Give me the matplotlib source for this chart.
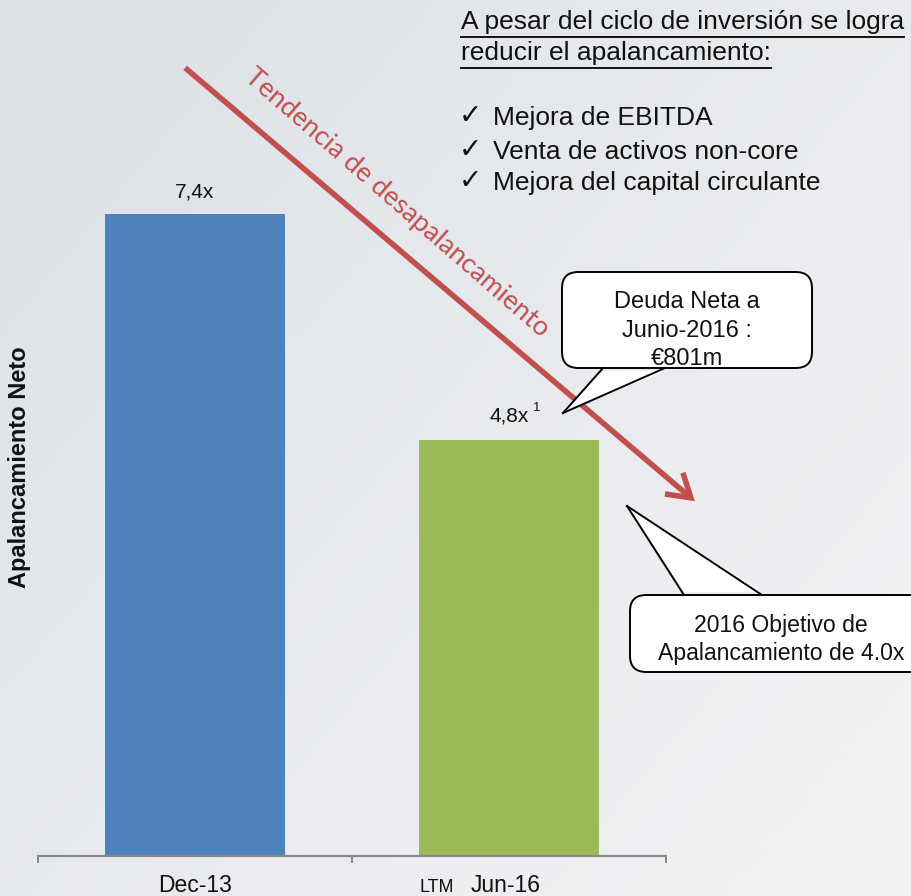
import numpy as np
import matplotlib
matplotlib.use("Agg")
import matplotlib.pyplot as plt
from matplotlib.patches import FancyBboxPatch, Polygon, FancyArrowPatch
from matplotlib.lines import Line2D

# ---- data ----
categories = ["Dec-13", "Jun-16"]
values = [7.4, 4.8]
value_labels = ["7,4x", "4,8x"]
bar_colors = ["#4f81bd", "#9bbb59"]
ylabel = "Apalancamiento Neto"
title_lines = ["A pesar del ciclo de inversión se logra", "reducir el apalancamiento:"]
bullets = ["Mejora de EBITDA", "Venta de activos non-core", "Mejora del capital circulante"]
trend_label = "Tendencia de desapalancamiento"
callout1 = ["Deuda Neta a", "Junio-2016 :", "€801m"]
callout2 = ["2016 Objetivo de", "Apalancamiento de 4.0x"]

W, H = 912, 896
fig = plt.figure(figsize=(W / 100, H / 100), dpi=100)

def P(x, y):
    return (x / W, 1 - y / H)

ARIAL = ["Liberation Sans", "DejaVu Sans"]

# background gradient
bg = fig.add_axes([0, 0, 1, 1], zorder=-10)
yy, xx = np.mgrid[0:1:200j, 0:1:200j]
t = np.clip((xx * 0.55 + yy * 0.45), 0, 1)
c0 = np.array([0xdc, 0xe1, 0xe6]) / 255
c1 = np.array([0xf3, 0xf3, 0xf5]) / 255
img = c0[None, None, :] * (1 - t[..., None]) + c1[None, None, :] * t[..., None]
bg.imshow(img, aspect="auto", extent=[0, 1, 0, 1], origin="upper")
bg.axis("off")

# main axes
ax = fig.add_axes([38 / W, 40 / H, 628 / W, 856 / H])
ax.patch.set_alpha(0)
x = np.arange(len(categories))
ax.bar(x, values, width=0.573, color=bar_colors, zorder=2)
ax.set_xlim(-0.5, 1.5)
ax.set_ylim(0, 9.873)
for s in ["top", "right", "left"]:
    ax.spines[s].set_visible(False)
ax.spines["bottom"].set_color("#888888")
ax.spines["bottom"].set_linewidth(1.6)
ax.set_yticks([])
ax.set_xticks([-0.5, 0.5, 1.5])
ax.set_xticklabels([])
ax.tick_params(axis="x", direction="out", length=5, width=1.4, color="#888888")

# value labels
ax.text(x[0], values[0] + 0.254, value_labels[0], ha="center", va="center",
        fontsize=15, family=ARIAL, color="#111111", zorder=5)
ax.text(x[1], values[1] + 0.27, value_labels[1], ha="center", va="center",
        fontsize=15, family=ARIAL, color="#111111", zorder=5)
fig.text(*P(537, 408), "1", ha="center", va="center", fontsize=9.5, family=ARIAL, color="#111111")

# category labels
fig.text(*P(195, 885), categories[0], ha="center", va="center", fontsize=16.5, family=ARIAL, color="#111111")
fig.text(*P(437, 887), "LTM", ha="center", va="center", fontsize=13, family=ARIAL, color="#111111")
fig.text(*P(506, 885), categories[1], ha="center", va="center", fontsize=16.5, family=ARIAL, color="#111111")

# y label
fig.text(*P(20, 467), ylabel, rotation=90, ha="center", va="center", fontsize=17,
         fontweight="bold", family=ARIAL, color="#111111")

# title text with underline
fig.canvas.draw()
renderer = fig.canvas.get_renderer()
for i, (line, yc) in enumerate(zip(title_lines, [22, 53])):
    tt = fig.text(*P(461, yc), line, ha="left", va="center", fontsize=19, family=ARIAL, color="#111111")
    bb = tt.get_window_extent(renderer=renderer)
    yline = 1 - (yc + 15) / H
    fig.add_artist(Line2D([bb.x0 / W, bb.x1 / W], [yline, yline], transform=fig.transFigure,
                          color="#111111", lw=1.4))

for line, yc in zip(bullets, [118, 152, 183]):
    fig.text(*P(470, yc - 2), "✓", ha="center", va="center", fontsize=20, fontweight="bold",
             family=["DejaVu Sans"], color="#111111")
    fig.text(*P(493, yc), line, ha="left", va="center", fontsize=19, family=ARIAL, color="#111111")

# trend arrow
arr = FancyArrowPatch(P(183, 66), P(697, 503), transform=fig.transFigure,
                      arrowstyle="->,head_length=8,head_width=5", color="#c0504d", lw=4,
                      mutation_scale=2, capstyle="butt", joinstyle="miter")
fig.add_artist(arr)
fig.text(*P(397, 203), trend_label, rotation=-41, rotation_mode="anchor", ha="center", va="center",
         fontsize=19.5, family=["Lato", "DejaVu Sans"], color="#c0504d")

# callouts
def callout(x0, y0, x1, y1, base, tip, lines, ys, xc, fs=17):
    box = FancyBboxPatch(P(x0, y1), (x1 - x0) / W, (y1 - y0) / H,
                         boxstyle="round,pad=0,rounding_size=0.018",
                         transform=fig.transFigure, facecolor="white", edgecolor="black",
                         lw=1.4, zorder=6, clip_on=False)
    fig.add_artist(box)
    ybase = base[2]
    inner = ybase + (-3 if ybase > tip[1] else 3)
    poly = Polygon([P(base[0], inner), P(base[1], inner), P(*tip)], closed=True,
                   transform=fig.transFigure, facecolor="white", edgecolor="none", zorder=7)
    fig.add_artist(poly)
    for bx in base[:2]:
        fig.add_artist(Line2D([bx / W, tip[0] / W], [1 - ybase / H, 1 - tip[1] / H],
                              transform=fig.transFigure, color="black", lw=1.4, zorder=8))
    for line, yc in zip(lines, ys):
        fig.text(*P(xc, yc), line, ha="center", va="center", fontsize=fs, family=ARIAL,
                 color="#111111", zorder=9)

callout(562, 272, 812, 368, (603, 665, 368), (563, 413), callout1, [302, 331, 359], 687)
callout(630, 595, 940, 672, (684, 762, 595), (627, 506), callout2, [625, 653], 781, fs=16.6)

fig.savefig("out.png", dpi=100)
